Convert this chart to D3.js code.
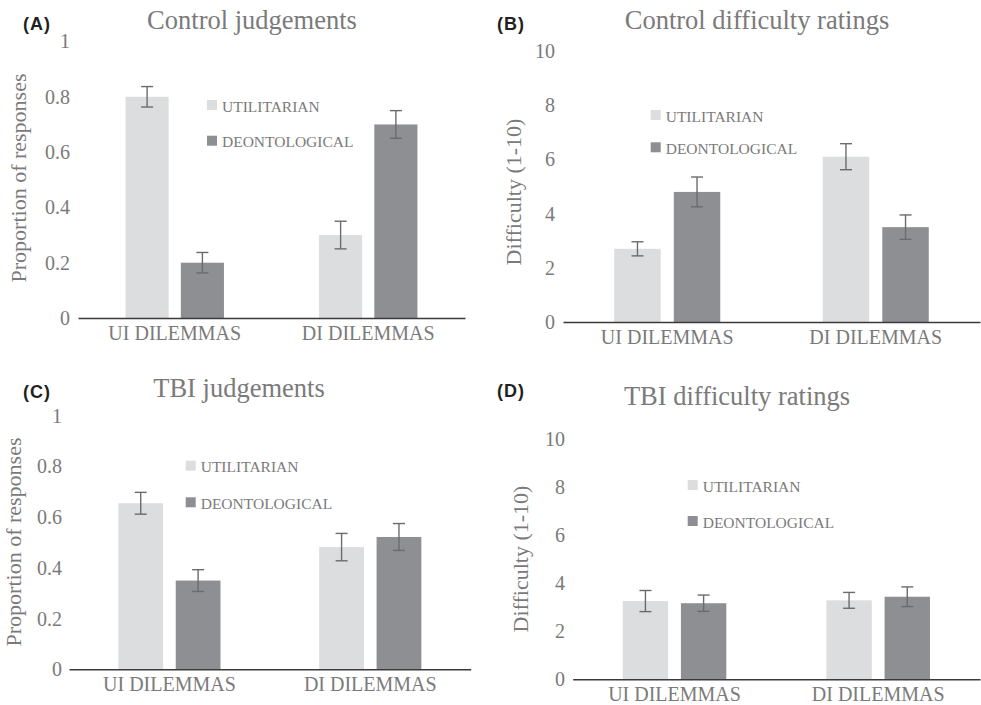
<!DOCTYPE html>
<html>
<head>
<meta charset="utf-8">
<script src="https://cdn.jsdelivr.net/npm/d3@7"></script>
<style>
  body { margin: 0; background: #fff; }
  svg { display: block; }
</style>
</head>
<body>
<div id="chart"></div>
<script>
// data
const categories = ["UI DILEMMAS", "DI DILEMMAS"];
const seriesNames = ["UTILITARIAN", "DEONTOLOGICAL"];
const propTicks = [0, 0.2, 0.4, 0.6, 0.8, 1];
const diffTicks = [0, 2, 4, 6, 8, 10];

const controlJudgeUtil = [0.80, 0.30];
const controlJudgeUtilErr = [0.037, 0.05];
const controlJudgeDeont = [0.20, 0.70];
const controlJudgeDeontErr = [0.037, 0.05];

const controlDiffUtil = [2.7, 6.1];
const controlDiffUtilErr = [0.26, 0.48];
const controlDiffDeont = [4.8, 3.5];
const controlDiffDeontErr = [0.55, 0.45];

const tbiJudgeUtil = [0.655, 0.482];
const tbiJudgeUtilErr = [0.043, 0.054];
const tbiJudgeDeont = [0.35, 0.522];
const tbiJudgeDeontErr = [0.043, 0.053];

const tbiDiffUtil = [3.26, 3.29];
const tbiDiffUtilErr = [0.44, 0.33];
const tbiDiffDeont = [3.17, 3.44];
const tbiDiffDeontErr = [0.34, 0.41];

const colors = ["#dcdddf", "#8e8f93"];

const SERIF = "'Liberation Serif', 'Times New Roman', serif";
const SANS = "'Liberation Sans', Arial, sans-serif";
const TEXT_COLOR = "#7a7a7a";

const w = 981, h = 705;

const panels = [
  {tag: "(A)", title: "Control judgements", yLabel: "Proportion of responses", max: 1, ticks: propTicks,
   vals: [controlJudgeUtil, controlJudgeDeont], errs: [controlJudgeUtilErr, controlJudgeDeontErr],
   x0: 78, x1: 465, yBase: 318, yTop: 41.5, tickX: 70, titleX: 252, titleY: 29, tagX: 23, tagY: 30,
   legX: 207, legY: [100, 135.7], yTitleX: 20, yTitleY: 178},
  {tag: "(B)", title: "Control difficulty ratings", yLabel: "Difficulty (1-10)", max: 10, ticks: diffTicks,
   vals: [controlDiffUtil, controlDiffDeont], errs: [controlDiffUtilErr, controlDiffDeontErr],
   x0: 563, x1: 980, yBase: 322, yTop: 51, tickX: 555, titleX: 757, titleY: 29, tagX: 497, tagY: 30,
   legX: 650.7, legY: [110, 142.3], yTitleX: 515, yTitleY: 192},
  {tag: "(C)", title: "TBI judgements", yLabel: "Proportion of responses", max: 1, ticks: propTicks,
   vals: [tbiJudgeUtil, tbiJudgeDeont], errs: [tbiJudgeUtilErr, tbiJudgeDeontErr],
   x0: 69, x1: 470.7, yBase: 669.3, yTop: 415.8, tickX: 62, titleX: 239, titleY: 397, tagX: 23, tagY: 398,
   legX: 185.7, legY: [460.7, 497.3], yTitleX: 15, yTitleY: 542},
  {tag: "(D)", title: "TBI difficulty ratings", yLabel: "Difficulty (1-10)", max: 10, ticks: diffTicks,
   vals: [tbiDiffUtil, tbiDiffDeont], errs: [tbiDiffUtilErr, tbiDiffDeontErr],
   x0: 572.7, x1: 980, yBase: 679.3, yTop: 439.3, tickX: 565, titleX: 737, titleY: 405, tagX: 497, tagY: 397,
   legX: 687.7, legY: [480, 516], yTitleX: 521.7, yTitleY: 559}
];

const svg = d3.select("#chart")
  .append("svg")
  .attr("width", w)
  .attr("height", h);

panels.forEach(drawPanel);

function drawPanel(p) {
  const g = svg.append("g")
    .attr("font-family", SERIF);

  const x = d3.scaleBand()
    .domain(categories)
    .range([p.x0, p.x1])
    .padding(0);

  const xs = d3.scaleBand()
    .domain(seriesNames)
    .range([0, x.bandwidth()])
    .paddingInner(0.22)
    .paddingOuter(0.86);

  const y = d3.scaleLinear()
    .domain([0, p.max])
    .range([p.yBase, p.yTop]);

  // rows of {cat, series, value, err}
  const rows = [];
  seriesNames.forEach((s, si) => {
    categories.forEach((c, ci) => {
      rows.push({cat: c, series: s, si: si, value: p.vals[si][ci], err: p.errs[si][ci]});
    });
  });

  g.selectAll("rect.bar")
    .data(rows)
    .enter()
    .append("rect")
    .attr("class", "bar")
    .attr("x", (d) => x(d.cat) + xs(d.series))
    .attr("y", (d) => y(d.value))
    .attr("width", xs.bandwidth())
    .attr("height", (d) => y(0) - y(d.value))
    .attr("fill", (d) => colors[d.si]);

  // error bars
  const eb = g.selectAll("g.err")
    .data(rows)
    .enter()
    .append("g")
    .attr("class", "err")
    .attr("transform", (d) => "translate(" + (x(d.cat) + xs(d.series) + xs.bandwidth() / 2) + ",0)")
    .attr("stroke", "#6b6b6b")
    .attr("stroke-width", 1.4);
  eb.append("line")
    .attr("x1", 0).attr("x2", 0)
    .attr("y1", (d) => y(d.value + d.err))
    .attr("y2", (d) => y(d.value - d.err));
  eb.append("line")
    .attr("x1", -6).attr("x2", 6)
    .attr("y1", (d) => y(d.value + d.err))
    .attr("y2", (d) => y(d.value + d.err));
  eb.append("line")
    .attr("x1", -6).attr("x2", 6)
    .attr("y1", (d) => y(d.value - d.err))
    .attr("y2", (d) => y(d.value - d.err));

  // y axis (labels only)
  const ya = g.append("g")
    .attr("transform", "translate(" + p.x0 + ",0)")
    .call(d3.axisLeft(y).tickValues(p.ticks).tickFormat((d) => d).tickSize(0).tickPadding(p.x0 - p.tickX));
  ya.attr("font-family", SERIF).attr("font-size", 20);
  ya.select(".domain").remove();
  ya.selectAll("text").attr("fill", TEXT_COLOR);

  // x axis
  const xa = g.append("g")
    .attr("transform", "translate(0," + p.yBase + ")")
    .call(d3.axisBottom(x).tickSize(0).tickPadding(8));
  xa.attr("font-family", SERIF).attr("font-size", 20);
  xa.select(".domain")
    .attr("stroke", "#3a3a3a")
    .attr("stroke-width", 1.6);
  xa.selectAll("text").attr("fill", TEXT_COLOR);

  // panel tag and titles
  g.append("text")
    .attr("x", p.tagX)
    .attr("y", p.tagY)
    .attr("font-family", SANS)
    .attr("font-weight", "bold")
    .attr("font-size", 18)
    .attr("letter-spacing", 1)
    .attr("fill", "#231f20")
    .text(p.tag);

  g.append("text")
    .attr("x", p.titleX)
    .attr("y", p.titleY)
    .attr("text-anchor", "middle")
    .attr("font-size", 26.5)
    .attr("fill", TEXT_COLOR)
    .text(p.title);

  g.append("text")
    .attr("transform", "translate(" + (p.yTitleX + 6) + "," + p.yTitleY + ") rotate(-90)")
    .attr("text-anchor", "middle")
    .attr("font-size", 22)
    .attr("fill", TEXT_COLOR)
    .text(p.yLabel);

  // legend
  const leg = g.selectAll("g.leg")
    .data(seriesNames)
    .enter()
    .append("g")
    .attr("class", "leg")
    .attr("transform", (d, i) => "translate(" + p.legX + "," + p.legY[i] + ")");
  leg.append("rect")
    .attr("width", 10)
    .attr("height", 10)
    .attr("fill", (d, i) => colors[i]);
  leg.append("text")
    .attr("x", 15)
    .attr("y", 11.5)
    .attr("font-size", 15.5)
    .attr("fill", TEXT_COLOR)
    .text((d) => d);
}
</script>
</body>
</html>
